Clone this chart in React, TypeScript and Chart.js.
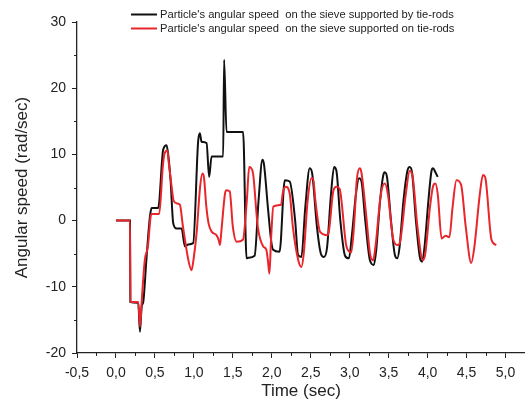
import { useEffect, useRef } from 'react';
import { Chart, registerables } from 'chart.js';

Chart.register(...registerables);

const seriesLabels = [
  "Particle's angular speed  on the sieve supported by tie-rods",
  "Particle's angular speed  on the sieve supported on tie-rods",
];

const byRodsTime = [
  0, 0.18, 0.185, 0.286, 0.308, 0.33, 0.35, 0.39, 0.436, 0.458, 0.542, 0.606, 0.65, 0.67, 0.701,
  0.735, 0.778, 0.842, 0.885, 0.927, 0.991, 1.055, 1.077, 1.099, 1.163, 1.196, 1.227, 1.376, 1.388,
  1.419, 1.632, 1.676, 1.70, 1.78, 1.83, 1.88, 1.90, 1.95, 1.996, 2.017, 2.10, 2.167, 2.23, 2.30,
  2.337, 2.38, 2.43, 2.487, 2.52, 2.58, 2.63, 2.67, 2.71, 2.76, 2.80, 2.83, 2.88, 2.94, 2.99, 3.03,
  3.08, 3.12, 3.15, 3.20, 3.26, 3.31, 3.34, 3.39, 3.43, 3.45, 3.48, 3.53, 3.58, 3.61, 3.64, 3.69,
  3.74, 3.77, 3.80, 3.85, 3.90, 3.93, 3.96, 4.01, 4.05, 4.07, 4.10, 4.13,
];
const byRodsSpeed = [
  0, 0, -12.3, -12.4, -16.8, -13, -12.3, -6, 0.6, 1.9, 1.9, 10.7, 11.4, 10, 6.1,
  -0.4, -1.2, -1.2, -3.9, -3.6, -3.4, 12, 13.2, 11.9, 11.7, 6.6, 9.7, 9.7, 24.3,
  13.4, 13.4, -5.7, -5.6, -5.3, 3, 9.2, 8.5, 2, -3.4, -4.4, -4.7, 6.1, 5.9, 0,
  -5.2, -5.5, 2, 7.9, 7.0, -1, -5.0, -5.5, -4, 4, 8.1, 7.5, 0, -5.3, -5.7, -2,
  4, 6.4, 6, 0, -6, -6.7, -4.5, 3, 6.8, 7.3, 6.5, 0, -5.2, -5.7, -4, 3,
  7.5, 8.1, 7.3, 0, -5.5, -6.2, -4, 3, 7.5, 7.9, 7.3, 6.6,
];

const onRodsTime = [
  0, 0.18, 0.185, 0.286, 0.31, 0.33, 0.37, 0.41, 0.445, 0.46, 0.555, 0.6, 0.62, 0.66, 0.68,
  0.715, 0.74, 0.78, 0.82, 0.86, 0.93, 0.97, 1.0, 1.035, 1.08, 1.11, 1.13, 1.16, 1.19, 1.23,
  1.29, 1.32, 1.335, 1.35, 1.40, 1.42, 1.46, 1.50, 1.55, 1.63, 1.68, 1.71, 1.73, 1.76, 1.82,
  1.89, 1.93, 1.95, 1.97, 1.99, 2.02, 2.12, 2.14, 2.18, 2.23, 2.27, 2.34, 2.38, 2.41, 2.46,
  2.51, 2.53, 2.56, 2.62, 2.72, 2.74, 2.79, 2.83, 2.87, 2.96, 3.02, 3.06, 3.09, 3.13, 3.15,
  3.21, 3.26, 3.30, 3.33, 3.40, 3.45, 3.49, 3.56, 3.62, 3.65, 3.72, 3.77, 3.81, 3.87, 3.94,
  3.97, 4.03, 4.07, 4.10, 4.13, 4.18, 4.23, 4.28, 4.32, 4.37, 4.43, 4.49, 4.56, 4.60, 4.67,
  4.71, 4.74, 4.82, 4.88,
];
const onRodsSpeed = [
  0, 0, -12.3, -12.3, -16.0, -12.3, -6, -3.9, 0.6, 1.0, 1.0, 8.0, 10.0, 10.6, 8.5,
  5.1, 3.0, 2.6, 2.4, -0.9, -6.0, -7.5, -5.5, -1.9, 5.1, 7.1, 6.5, 2.1, -0.5, -1.7,
  -2.2, -3.0, -3.7, -2.0, 4.1, 4.6, 4.4, -0.9, -3.2, -2.9, 3.1, 8.1, 8.0, 7.1, -0.9,
  -3.9, -4.4, -6.0, -8.0, -3, 2.1, 2.4, 4.1, 5.1, 4.1, -0.9, -6.0, -7.0, -5, 3,
  6.4, 6.4, 3, -1.7, -2.2, -1, 4.5, 5.1, 4.8, -4.0, -4.8, 0, 6, 7.9, 7.3,
  1, -4.9, -6.0, -4, 4, 5.6, 4, -2.9, -3.7, -3.0, 4, 7.5, 6.5, -1, -6.0,
  -5, 2, 5.2, 5.6, 4, -2.7, -2.3, -2.5, 2, 6.1, 5.4, -1, -6.4, -4, 4,
  6.9, 6.5, -2.9, -3.7,
];

const xTickValues = [-0.5, 0, 0.5, 1, 1.5, 2, 2.5, 3, 3.5, 4, 4.5, 5];
const xMinorValues = [-0.25, 0.25, 0.75, 1.25, 1.75, 2.25, 2.75, 3.25, 3.75, 4.25, 4.75];
const yTickValues = [-20, -10, 0, 10, 20, 30];
const yMinorValues = [-15, -5, 5, 15, 25];

const FONT = '"Liberation Sans", Arial, sans-serif';
const INK = '#222';

const decorPlugin = {
  id: 'decor',
  afterDraw(chart: any) {
    const ctx = chart.ctx;
    const xs = chart.scales.x;
    const ys = chart.scales.y;
    const { left, bottom } = chart.chartArea;
    ctx.save();
    ctx.strokeStyle = INK;
    ctx.lineWidth = 1;
    xMinorValues.forEach((v) => {
      const px = Math.round(xs.getPixelForValue(v)) + 0.5;
      ctx.beginPath();
      ctx.moveTo(px, bottom);
      ctx.lineTo(px, bottom + 3);
      ctx.stroke();
    });
    yMinorValues.forEach((v) => {
      const py = Math.round(ys.getPixelForValue(v)) + 0.5;
      ctx.beginPath();
      ctx.moveTo(left, py);
      ctx.lineTo(left - 3, py);
      ctx.stroke();
    });
    ctx.font = '11.2px ' + FONT;
    ctx.textBaseline = 'middle';
    ctx.textAlign = 'left';
    chart.data.datasets.forEach((ds: any, i: number) => {
      const y = 14.5 + i * 14;
      ctx.strokeStyle = ds.borderColor;
      ctx.lineWidth = 2;
      ctx.beginPath();
      ctx.moveTo(131, y);
      ctx.lineTo(157, y);
      ctx.stroke();
      ctx.fillStyle = INK;
      ctx.fillText(ds.label, 160, y);
    });
    ctx.restore();
  },
};

export default function App() {
  const ref = useRef<HTMLCanvasElement | null>(null);
  useEffect(() => {
    if (!ref.current) return;
    const chart = new Chart(ref.current, {
      type: 'line',
      data: {
        datasets: [
          {
            label: seriesLabels[0],
            data: byRodsTime.map((t, i) => ({ x: t, y: byRodsSpeed[i] })),
            borderColor: '#111111',
            borderWidth: 2,
            pointRadius: 0,
            cubicInterpolationMode: 'monotone',
            order: 1,
          },
          {
            label: seriesLabels[1],
            data: onRodsTime.map((t, i) => ({ x: t, y: onRodsSpeed[i] })),
            borderColor: '#e8262c',
            borderWidth: 2,
            pointRadius: 0,
            cubicInterpolationMode: 'monotone',
            order: 0,
          },
        ],
      },
      options: {
        responsive: false,
        animation: false,
        layout: { padding: { top: 22, left: 0, right: 0, bottom: 0 } },
        plugins: { legend: { display: false }, tooltip: { enabled: false } },
        scales: {
          x: {
            type: 'linear',
            min: -0.5,
            max: 5.25,
            afterBuildTicks: (s: any) => {
              s.ticks = xTickValues.map((v) => ({ value: v }));
            },
            afterFit: (s: any) => {
              s.height = 52;
            },
            ticks: {
              autoSkip: false,
              maxRotation: 0,
              padding: 7,
              color: INK,
              font: { family: FONT, size: 14 },
              callback: (v: any) => Number(v).toFixed(1).replace('.', ','),
            },
            grid: { display: true, drawOnChartArea: false, drawTicks: true, tickLength: 5, color: INK },
            border: { display: true, color: INK, width: 1.3 },
            title: {
              display: true,
              text: 'Time (sec)',
              color: INK,
              font: { family: FONT, size: 17 },
              padding: { top: 0, bottom: 3 },
            },
          },
          y: {
            type: 'linear',
            min: -20,
            max: 30,
            afterBuildTicks: (s: any) => {
              s.ticks = yTickValues.map((v) => ({ value: v }));
            },
            afterFit: (s: any) => {
              s.width = 77;
            },
            ticks: {
              padding: 6,
              color: INK,
              font: { family: FONT, size: 14 },
            },
            grid: { display: true, drawOnChartArea: false, drawTicks: true, tickLength: 5, color: INK },
            border: { display: true, color: INK, width: 1.3 },
            title: {
              display: true,
              text: 'Angular speed (rad/sec)',
              color: INK,
              font: { family: FONT, size: 17 },
              padding: { top: 12, bottom: 0 },
            },
          },
        },
      },
      plugins: [decorPlugin],
    });
    return () => chart.destroy();
  }, []);
  return (
    <div style={{ position: 'fixed', left: 0, top: 0, width: 525, height: 405, background: '#fff' }}>
      <canvas ref={ref} width={525} height={405} style={{ display: 'block' }} />
    </div>
  );
}
